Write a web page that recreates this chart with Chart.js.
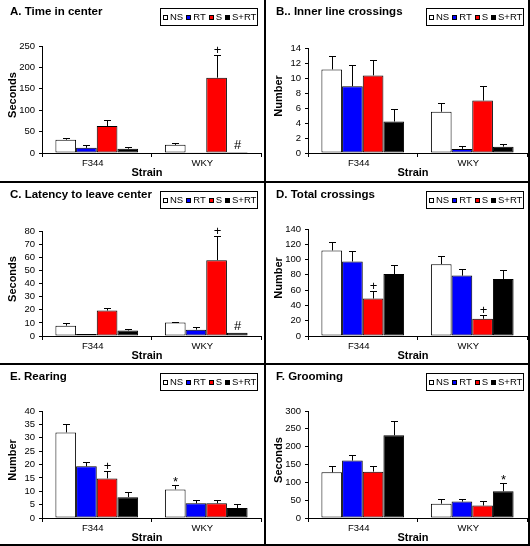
<!DOCTYPE html>
<html>
<head>
<meta charset="utf-8">
<script src="https://cdn.jsdelivr.net/npm/chart.js@4.4.0/dist/chart.umd.min.js"></script>
<style>
    body { margin: 0; background: #fff; }
    #wrap { position: relative; width: 530px; height: 546px; background: #fff; overflow: hidden; }
    .panel { position: absolute; width: 264px; height: 180px; }
    .rule { position: absolute; background: #000; }
</style>
</head>
<body>
<div id="wrap">
    <div class="panel" style="left:0;top:0"><canvas id="c0" width="264" height="180"></canvas></div>
    <div class="panel" style="left:266px;top:0"><canvas id="c1" width="264" height="180"></canvas></div>
    <div class="panel" style="left:0;top:183px"><canvas id="c2" width="264" height="180"></canvas></div>
    <div class="panel" style="left:266px;top:183px"><canvas id="c3" width="264" height="180"></canvas></div>
    <div class="panel" style="left:0;top:365px"><canvas id="c4" width="264" height="180"></canvas></div>
    <div class="panel" style="left:266px;top:365px"><canvas id="c5" width="264" height="180"></canvas></div>
    <div class="rule" style="left:264px;top:0;width:2px;height:546px"></div>
    <div class="rule" style="left:528px;top:0;width:2px;height:546px"></div>
    <div class="rule" style="left:0;top:181px;width:530px;height:2px"></div>
    <div class="rule" style="left:0;top:363px;width:530px;height:2px"></div>
    <div class="rule" style="left:0;top:544px;width:530px;height:2px"></div>
</div>
<script>
// Data
const strains = ['F344', 'WKY'];
const groups = ['NS', 'RT', 'S', 'S+RT'];

// each row is one group: [F344, WKY]; sem = length of the upper error bar
const timeCenterMean = [[31, 19], [12, 2], [63, 176], [10, 2.5]];
const timeCenterSem = [[4.5, 5], [6, 0], [15, 53], [4.5, 0]];
const timeCenterMarks = [['', ''], ['', ''], ['', '+'], ['', '#']];

const innerCrossMean = [[11.15, 5.5], [8.9, 0.55], [10.35, 7.0], [4.2, 0.85]];
const innerCrossSem = [[1.85, 1.2], [2.8, 0.4], [2.0, 2.0], [1.7, 0.4]];
const innerCrossMarks = [['', ''], ['', ''], ['', ''], ['', '']];

const latencyMean = [[7.9, 10.2], [1.6, 4.8], [19.4, 57.8], [4.2, 2.4]];
const latencySem = [[2.3, 0.8], [0, 2.3], [2.3, 18.4], [0.8, 0]];
const latencyMarks = [['', ''], ['', ''], ['', '+'], ['', '#']];

const totalCrossMean = [[112, 94], [97.5, 79], [49, 22.5], [81, 74.5]];
const totalCrossSem = [[10.5, 10.5], [14, 9], [10.5, 5.5], [12.5, 11.5]];
const totalCrossMarks = [['', ''], ['', ''], ['+', '+'], ['', '']];

const rearingMean = [[32, 10.7], [19.3, 5.5], [14.8, 5.5], [7.8, 3.7]];
const rearingSem = [[3.3, 1.8], [1.8, 1.4], [2.6, 1.4], [2.1, 1.4]];
const rearingMarks = [['', '*'], ['', ''], ['+', ''], ['', '']];

const groomingMean = [[128, 40], [161, 46], [130, 35], [232, 75]];
const groomingSem = [[19, 12], [17, 8], [17, 12], [39, 24]];
const groomingMarks = [['', ''], ['', ''], ['', ''], ['', '*']];

const panelTitles = ['A. Time in center', 'B.. Inner line crossings', 'C. Latency to leave center',
    'D. Total crossings', 'E. Rearing', 'F. Grooming'];
const yTitles = ['Seconds', 'Number', 'Seconds', 'Number', 'Number', 'Seconds'];
const yMax = [250, 14, 80, 140, 40, 300];
const yStep = [50, 2, 10, 20, 5, 50];
const xTitle = 'Strain';

const panelMeans = [timeCenterMean, innerCrossMean, latencyMean, totalCrossMean, rearingMean, groomingMean];
const panelSems = [timeCenterSem, innerCrossSem, latencySem, totalCrossSem, rearingSem, groomingSem];
const panelMarks = [timeCenterMarks, innerCrossMarks, latencyMarks, totalCrossMarks, rearingMarks, groomingMarks];

// Styles
const FONT = 'Arial, "Liberation Sans", sans-serif';
const groupFill = ['#ffffff', '#0000ff', '#ff0000', '#000000'];
const plotTop = [46, 48, 48, 46, 46, 46];
const plotBottom = 153;
const markGap = { '+': 1, '#': 2.5, '*': -1.5 };

const decor = {
    id: 'decor',
    afterDatasetsDraw(chart) {
        const p = chart.options.panelIndex;
        const ctx = chart.ctx;
        const yScale = chart.scales.y;
        ctx.save();
        ctx.strokeStyle = '#000';
        ctx.lineWidth = 1;
        chart.data.datasets.forEach((ds, i) => {
            const meta = chart.getDatasetMeta(i);
            meta.data.forEach((bar, j) => {
                const sem = panelSems[p][i][j];
                const top = yScale.getPixelForValue(ds.data[j] + sem);
                const x = Math.round(bar.x) + 0.5;
                if (sem > 0) {
                    ctx.beginPath();
                    ctx.moveTo(x, bar.y);
                    ctx.lineTo(x, Math.round(top) + 0.5);
                    ctx.moveTo(x - 3.5, Math.round(top) + 0.5);
                    ctx.lineTo(x + 3.5, Math.round(top) + 0.5);
                    ctx.stroke();
                }
                const mark = panelMarks[p][i][j];
                if (mark) {
                    ctx.fillStyle = '#000';
                    ctx.font = '13px ' + FONT;
                    ctx.textAlign = 'center';
                    ctx.textBaseline = 'alphabetic';
                    ctx.fillText(mark, x, top - markGap[mark]);
                }
            });
        });
        ctx.restore();
    },
    afterDraw(chart) {
        const p = chart.options.panelIndex;
        const ctx = chart.ctx;
        const area = chart.chartArea;
        ctx.save();
        ctx.fillStyle = '#000';

        // panel title
        ctx.font = 'bold 11.5px ' + FONT;
        ctx.textAlign = 'left';
        ctx.textBaseline = 'alphabetic';
        ctx.fillText(panelTitles[p], 10, 14.5);

        // axis titles
        ctx.font = 'bold 11px ' + FONT;
        ctx.textAlign = 'center';
        ctx.textBaseline = 'middle';
        ctx.fillText(xTitle, (area.left + area.right) / 2 - 4.5, 173);
        ctx.save();
        ctx.translate(12.5, (area.top + area.bottom) / 2 - 4.5);
        ctx.rotate(-Math.PI / 2);
        ctx.fillText(yTitles[p], 0, 0);
        ctx.restore();

        // legend
        ctx.font = '9.5px ' + FONT;
        const sq = 5, gapText = 2, gapItem = 3;
        const widths = chart.data.datasets.map(ds => ctx.measureText(ds.label).width);
        let total = 0;
        widths.forEach((w, i) => { total += sq + gapText + w + (i ? gapItem : 0); });
        const boxRight = 258, boxTop = 8, boxH = 18;
        const boxLeft = Math.round(boxRight - total - 5);
        ctx.fillStyle = '#fff';
        ctx.fillRect(boxLeft, boxTop, boxRight - boxLeft, boxH);
        ctx.strokeStyle = '#000';
        ctx.lineWidth = 1;
        ctx.strokeRect(boxLeft + 0.5, boxTop + 0.5, boxRight - boxLeft - 1, boxH - 1);
        let x = boxLeft + 3;
        const cy = boxTop + boxH / 2;
        ctx.textAlign = 'left';
        ctx.textBaseline = 'middle';
        chart.data.datasets.forEach((ds, i) => {
            ctx.fillStyle = ds.backgroundColor;
            ctx.fillRect(Math.round(x), Math.round(cy - sq / 2), sq, sq);
            ctx.strokeRect(Math.round(x) + 0.5, Math.round(cy - sq / 2) + 0.5, sq - 1, sq - 1);
            x += sq + gapText;
            ctx.fillStyle = '#000';
            ctx.fillText(ds.label, x, cy + 0.5);
            x += widths[i] + gapItem;
        });
        ctx.restore();
    }
};

function makePanel(p) {
    const canvas = document.getElementById('c' + p);
    const datasets = groups.map((g, i) => ({
        label: g,
        data: panelMeans[p][i],
        backgroundColor: groupFill[i],
        borderColor: '#000',
        borderWidth: 1,
        borderSkipped: false,
        categoryPercentage: 0.755,
        barPercentage: 1
    }));
    return new Chart(canvas, {
        type: 'bar',
        data: { labels: strains, datasets: datasets },
        options: {
            panelIndex: p,
            responsive: false,
            animation: false,
            devicePixelRatio: 1,
            layout: { padding: { left: 0, right: 3, top: plotTop[p], bottom: 0 } },
            plugins: { legend: { display: false }, tooltip: { enabled: false }, title: { display: false } },
            scales: {
                x: {
                    grid: { offset: true, drawOnChartArea: false, color: '#000', tickLength: 4 },
                    border: { color: '#000', width: 1 },
                    ticks: { color: '#000', font: { family: FONT, size: 9.5 }, padding: 1, labelOffset: -4 },
                    afterFit: s => { s.height = 180 - plotBottom; }
                },
                y: {
                    min: 0,
                    max: yMax[p],
                    grid: { drawOnChartArea: false, color: '#000', tickLength: 3 },
                    border: { color: '#000', width: 1 },
                    ticks: { stepSize: yStep[p], autoSkip: false, color: '#000', font: { family: FONT, size: 9.5 }, padding: 4 },
                    afterFit: s => { s.width = 42; }
                }
            }
        },
        plugins: [decor]
    });
}

for (let p = 0; p < 6; p++) makePanel(p);
</script>
</body>
</html>
